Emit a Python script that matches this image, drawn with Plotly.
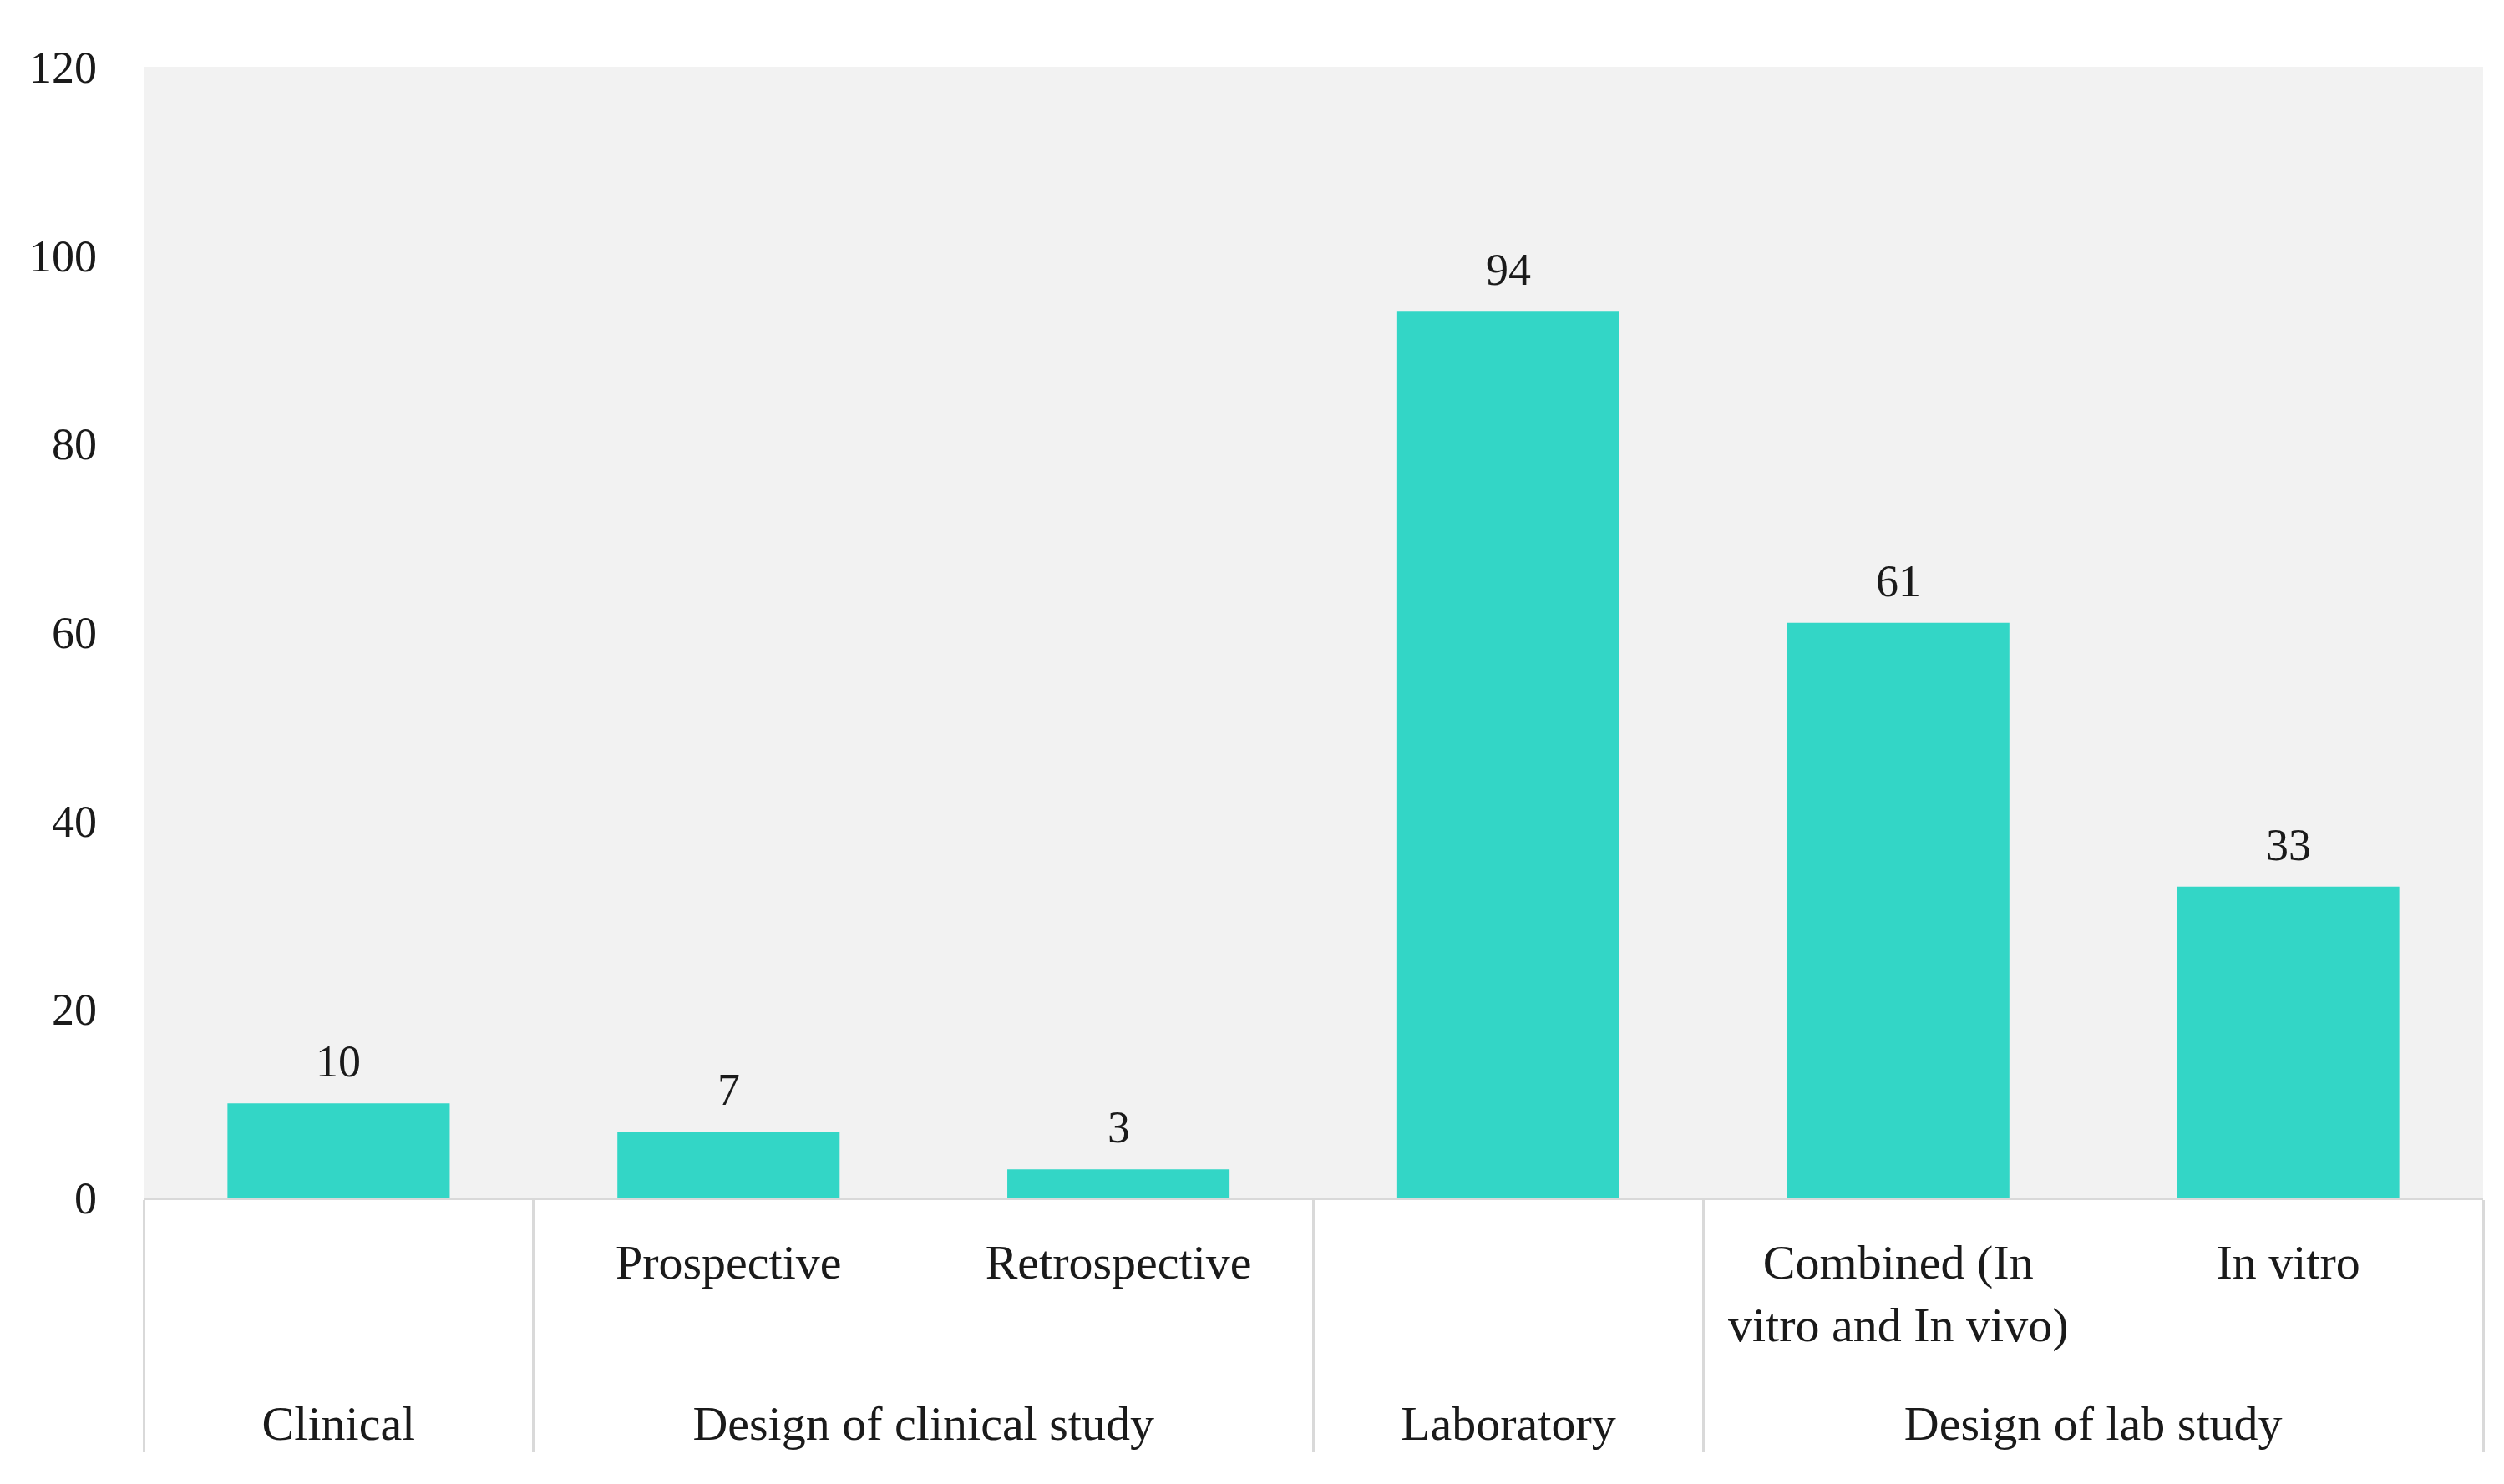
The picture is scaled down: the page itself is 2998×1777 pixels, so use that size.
import plotly.graph_objects as go

groups = ["Clinical", "Design of clinical study", "Design of clinical study",
          "Laboratory", "Design of lab study", "Design of lab study"]
subs = [" ", "Prospective", "Retrospective", "  ",
        "Combined (In<br>vitro and In vivo)", "In vitro"]
values = [10, 7, 3, 94, 61, 33]

FONT = "Palatino Linotype, Book Antiqua, Palatino, Liberation Serif, serif"
TXT = "#1a1a1a"

fig = go.Figure(go.Bar(
    x=[["<br>" + g for g in groups], subs], y=values,
    marker=dict(color="#33D6C6", line=dict(width=0)),
    width=0.57,
    cliponaxis=False,
))

for i, v in enumerate(values):
    fig.add_annotation(x=i, y=v, xref="x", yref="y", text=str(v),
                       showarrow=False, yanchor="bottom", yshift=18,
                       font=dict(family=FONT, size=54, color=TXT))

fig.update_layout(
    width=2998, height=1777,
    margin=dict(l=164, r=33, t=72, b=351),
    paper_bgcolor="white", plot_bgcolor="#F2F2F2",
    font=dict(family=FONT, size=54, color=TXT),
    showlegend=False,
    xaxis=dict(
        type="multicategory", showgrid=False,
        showline=True, linecolor="#D9D9D9", linewidth=3,
        dividercolor="#D9D9D9", dividerwidth=3,
        showdividers=True, tickson="boundaries",
        ticks="", ticklabelstandoff=24,
        tickfont=dict(family=FONT, size=58, color=TXT),
    ),
    yaxis=dict(
        range=[0, 120], dtick=20, showgrid=False, zeroline=False,
        ticks="", ticklabelstandoff=55,
        tickfont=dict(family=FONT, size=54, color=TXT),
    ),
)

fig.write_html("out.html")
